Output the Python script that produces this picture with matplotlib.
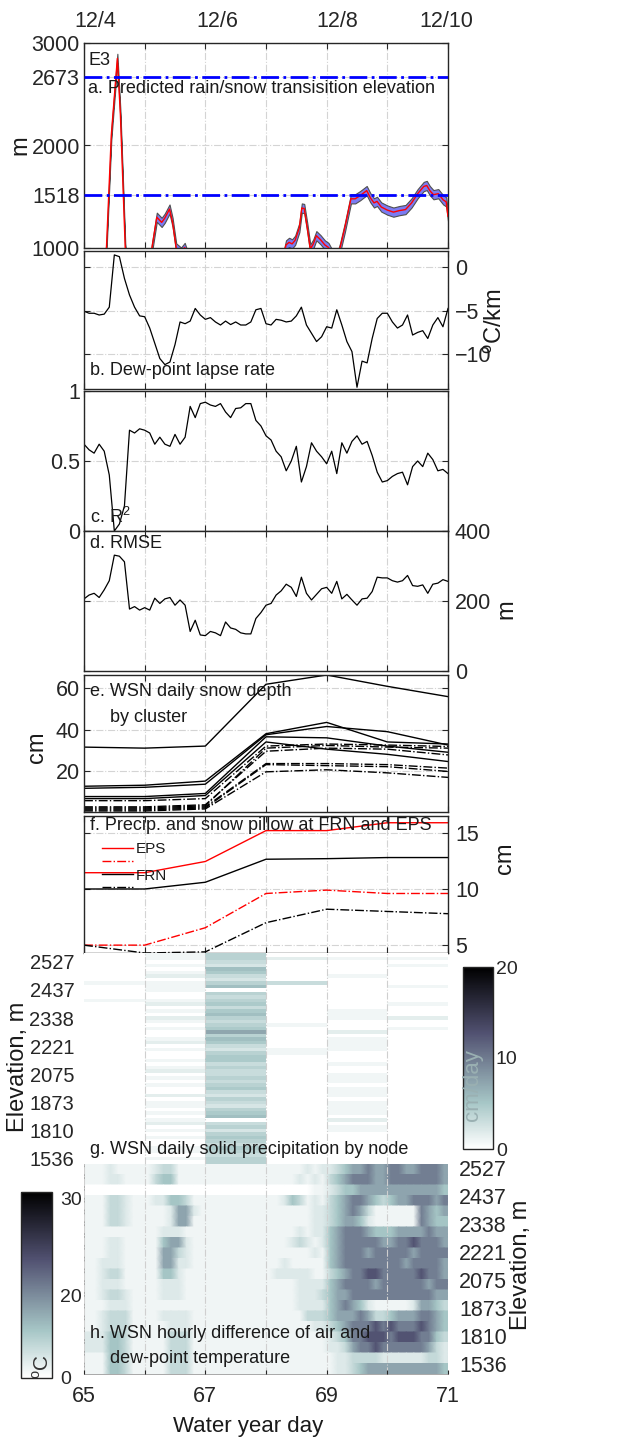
import numpy as np
import matplotlib.pyplot as plt
from matplotlib.colors import Normalize, PowerNorm

plt.rcParams['font.family'] = ['Liberation Sans', 'DejaVu Sans']
plt.rcParams['mathtext.fontset'] = 'custom'
plt.rcParams['mathtext.rm'] = 'Liberation Sans'
plt.rcParams['axes.edgecolor'] = '#262626'
plt.rcParams['xtick.color'] = '#262626'
plt.rcParams['ytick.color'] = '#262626'
plt.rcParams['text.color'] = '#1a1a1a'
plt.rcParams['axes.labelcolor'] = '#1a1a1a'

##############################################
###                  DATA                  ###
##############################################

days = np.arange(65, 72)                  # water year day
date_labels = ['12/4', '12/6', '12/8', '12/10']
date_ticks = [65.18, 67.2, 69.18, 70.98]
t2h = np.linspace(65, 71, 73)             # two-hourly time stamps

# a. predicted rain/snow transition elevation (m)
a_day = [65.0, 65.3, 65.37, 65.45, 65.55, 65.6, 65.68, 65.75, 66.05, 66.12,
         66.2, 66.28, 66.33, 66.41, 66.46, 66.52, 66.6, 66.66, 66.72, 67.0,
         68.0, 68.28, 68.33, 68.38, 68.43, 68.48, 68.55, 68.59, 68.63, 68.68,
         68.73, 68.78, 68.83, 68.9, 68.97, 69.03, 69.08, 69.17, 69.22, 69.3,
         69.4, 69.47, 69.55, 69.66, 69.72, 69.78, 69.83, 69.9, 70.0, 70.1,
         70.2, 70.3, 70.4, 70.5, 70.6, 70.65, 70.7, 70.76, 70.84, 70.92,
         70.97, 71.0]
a_elev = [500, 700, 1000, 2100, 2850, 2300, 1000, 600, 700, 1000,
          1300, 1250, 1290, 1380, 1250, 1000, 960, 1005, 900, 600,
          600, 900, 1030, 1055, 1040, 1075, 1200, 1390, 1385, 1200,
          990, 1040, 1120, 1080, 1030, 1005, 950, 900, 1000, 1200,
          1480, 1480, 1510, 1560, 1490, 1440, 1455, 1400, 1370, 1350,
          1365, 1375, 1440, 1530, 1600, 1610, 1560, 1520, 1530, 1470,
          1450, 1310]
a_band = 45                               # half width of the uncertainty band
snow_line_elev = [2673, 1518]

# b. dew-point lapse rate (degC/km)
b_lapse = [-5.06, -5.3, -5.3, -5.5, -5.4, -4.6, 1.4, 1.2, -1.3, -3.2, -4.6, -5.6,
           -5.7, -7.0, -8.75, -10.5, -11.2, -10.9, -8.9, -6.3, -6.5, -6.2, -4.75, -5.5,
           -6.0, -5.8, -6.3, -6.65, -6.2, -6.6, -6.3, -6.65, -6.65, -6.3, -4.9, -4.75,
           -6.5, -6.65, -6.0, -6.1, -6.3, -6.2, -5.6, -4.6, -6.65, -7.6, -8.55, -8.0,
           -6.85, -7.0, -4.9, -6.65, -8.55, -9.7, -13.8, -10.8, -11.0, -8.2, -5.9, -5.3,
           -5.3, -6.3, -7.0, -6.65, -5.5, -7.8, -7.5, -7.3, -8.2, -6.65, -5.8, -6.85,
           -4.75]

# c. R^2 of the lapse-rate fit
c_r2 = [0.62, 0.58, 0.556, 0.62, 0.57, 0.40, 0.0, 0.05, 0.18, 0.72, 0.70, 0.73,
        0.72, 0.70, 0.62, 0.67, 0.62, 0.605, 0.69, 0.62, 0.67, 0.89, 0.81, 0.91,
        0.92, 0.90, 0.89, 0.91, 0.85, 0.81, 0.875, 0.88, 0.91, 0.91, 0.79, 0.75,
        0.68, 0.65, 0.57, 0.53, 0.43, 0.50, 0.605, 0.35, 0.46, 0.63, 0.57, 0.53,
        0.48, 0.57, 0.41, 0.63, 0.556, 0.64, 0.68, 0.62, 0.64, 0.54, 0.42, 0.35,
        0.36, 0.39, 0.41, 0.42, 0.33, 0.46, 0.50, 0.46, 0.556, 0.51, 0.43, 0.44,
        0.41]

# d. RMSE of the fit (m)
d_rmse = [206, 217, 222, 210, 232, 258, 331, 328, 312, 177, 184, 174,
          181, 174, 208, 193, 206, 210, 188, 203, 188, 113, 145, 103,
          101, 113, 109, 101, 140, 123, 119, 109, 106, 106, 150, 167,
          188, 193, 217, 229, 248, 239, 213, 268, 222, 203, 219, 235,
          239, 222, 256, 206, 219, 203, 188, 206, 208, 227, 268, 266,
          266, 258, 254, 258, 273, 244, 242, 246, 222, 248, 251, 261,
          256]

# e. daily snow depth by cluster (cm)
e_solid = [
    [31.5, 31.0, 32.0, 62.0, 66.5, 61.0, 56.0],
    [12.5, 13.0, 15.0, 38.0, 43.5, 34.0, 33.0],
    [11.5, 12.0, 13.5, 37.5, 41.5, 39.0, 32.5],
    [7.5, 7.5, 9.0, 36.5, 36.0, 32.0, 29.0],
    [6.5, 6.5, 8.0, 34.0, 30.5, 28.0, 24.5],
]
e_dashdot = [
    [5.5, 5.5, 6.5, 32.0, 33.0, 32.5, 31.8],
    [2.0, 2.0, 3.0, 31.0, 32.3, 31.5, 31.0],
    [2.5, 2.5, 3.5, 29.5, 31.0, 30.5, 27.7],
    [1.5, 1.5, 2.5, 23.5, 23.5, 23.0, 21.3],
    [1.0, 1.0, 2.0, 23.0, 22.5, 22.0, 19.7],
    [0.5, 0.5, 1.5, 19.5, 20.5, 19.0, 16.8],
]

# f. cumulative precip (solid) and snow pillow (dash-dot), cm
eps_precip = [11.45, 11.45, 12.45, 15.2, 15.2, 15.9, 15.9]
frn_precip = [10.0, 10.0, 10.6, 12.65, 12.7, 12.8, 12.8]
eps_pillow = [5.0, 5.0, 6.55, 9.6, 9.9, 9.6, 9.6]
frn_pillow = [5.0, 4.3, 4.4, 7.0, 8.2, 8.0, 7.8]

# g. daily solid precipitation by node, one string per day,
#    one digit per node (top = highest), 0.8 cm/day per step
g_step = 0.8
g_day65 = "0000000010 0001000000 0000000000 0000000000 0000000000 0000000000"
g_day66 = "1101012011 1001201021 0100120100 1012010100 2011010120 1010011010"
g_day67 = "5543764357 0545646754 5695764356 6454454564 3543567045 3565465455"
g_day68 = "0200000040 0000000000 1000000110 0000000000 0000000000 0000000000"
g_day69 = "0100001000 0000001110 0020111100 0100111011 1011110201 1000000000"
g_day70 = "0101000001 0000100020 0100000000 0000000000 0000000000 0000000000"

# h. hourly air minus dew-point temperature, 3-hour columns,
#    one string per group of three nodes, 3 degC per step
h_step = 3.0
h_rows = [
    "22232222 23442222 22222222 22222323 34566766 77667776",
    "22233222 24552222 22222222 22223232 45677766 77777776",
    "00000000 00000000 00000000 00000022 34556666 66666665",
    "22244322 23355422 22222222 22354232 45677654 56677767",
    "22244322 22236632 22222222 22222233 45676422 22227656",
    "22244322 22236622 22222222 22222233 45665322 22227655",
    "22222222 22333222 22222222 22223233 56777655 56666766",
    "22233222 22566322 22222222 22234323 56777776 67787776",
    "22233222 22664322 22222222 22222232 56777677 77767777",
    "22333222 22663322 22222222 22322222 56777777 77677776",
    "22344222 22553222 22222222 23333322 45677887 77778776",
    "22333222 22333222 22222222 22223333 56777767 77777677",
    "22344322 22333222 22222222 22223334 56677777 77777766",
    "22233322 22222222 22222222 22223333 56765322 22236654",
    "22344422 22333322 22222222 22222444 56667644 56667765",
    "22344422 22233322 22222222 22222233 45677787 87778765",
    "33355422 22244422 22222222 22222222 34577888 78887754",
    "33355422 22244422 22222222 22222222 33467787 77777643",
    "22255422 22244422 22222222 22222222 23344443 33333443",
    "22255422 22244422 22222222 22222222 23345666 66666665",
]
node_elev_labels = ['2527', '2437', '2338', '2221', '2075', '1873', '1810', '1536']
n_nodes = 60


def digits(s):
    return [int(c) for c in "".join(s.split())]


g_matrix = np.array([digits(s) for s in
                     (g_day65, g_day66, g_day67, g_day68, g_day69, g_day70)]).T * g_step
h_matrix = np.array([digits(s) for s in h_rows]) * h_step

##############################################
###                  PLOT                  ###
##############################################

W, H = 620, 1442
fig = plt.figure(figsize=(W / 100, H / 100), dpi=100)
TICK = 15.5
TXT = 13
YLAB = 17


def box(x0, y0, x1, y1):
    return [x0 / W, 1 - y1 / H, (x1 - x0) / W, (y1 - y0) / H]


def line_panel(rect):
    ax = fig.add_axes(rect)
    ax.set_xlim(65, 71)
    ax.set_xticks(days)
    ax.tick_params(axis='both', direction='in', length=4, width=0.8,
                   labelsize=TICK, top=True, right=True, labelbottom=False, pad=3)
    ax.grid(True, ls='-.', color='#d4d4d4', lw=0.8)
    for s in ax.spines.values():
        s.set_linewidth(1.0)
    return ax


def label(ax, x, y, s, **kw):
    ax.text(x, y, s, transform=ax.transAxes, fontsize=TXT, va='center', ha='left', **kw)


# a
ax_a = line_panel(box(84, 43, 448, 248))
a_elev = np.array(a_elev, dtype=float)
ax_a.fill_between(a_day, a_elev - a_band, a_elev + a_band, facecolor='#7b7bf3',
                  edgecolor='#505050', lw=0.8, zorder=2)
ax_a.plot(a_day, a_elev, color='red', lw=1.0, zorder=3)
for elev in snow_line_elev:
    ax_a.axhline(elev, color='#0000ff', ls='-.', lw=2.0, zorder=4)
ax_a.set_ylim(1000, 3000)
ax_a.set_yticks(sorted([1000, 2000, 3000] + snow_line_elev))
top = ax_a.secondary_xaxis('top')
top.set_xticks(date_ticks)
top.set_xticklabels(date_labels)
top.tick_params(length=0, labelsize=TICK, pad=8)
top.spines['top'].set_visible(False)
ax_a.set_ylabel('m', fontsize=YLAB)
ax_a.yaxis.set_label_coords(-0.145, 0.5)
label(ax_a, 0.012, 0.917, 'E3')
label(ax_a, 0.012, 0.78, 'a. Predicted rain/snow transisition elevation')

# b
ax_b = line_panel(box(84, 251, 448, 389))
ax_b.plot(t2h, b_lapse, color='black', lw=0.9)
ax_b.set_ylim(-14, 1.85)
ax_b.set_yticks([-10, -5, 0])
ax_b.tick_params(axis='y', labelleft=False, labelright=True, pad=5)
ax_b.yaxis.set_label_position('right')
ax_b.set_ylabel(r'$^{\mathrm{o}}$C/km', fontsize=YLAB)
ax_b.yaxis.set_label_coords(1.1, 0.49)
label(ax_b, 0.016, 0.135, 'b. Dew-point lapse rate')

# c
ax_c = line_panel(box(84, 391, 448, 531))
ax_c.plot(t2h, c_r2, color='black', lw=0.9)
ax_c.set_ylim(0, 1.0)
ax_c.set_yticks([0, 0.5, 1])
ax_c.set_yticklabels(['0', '0.5', '1'])
label(ax_c, 0.016, 0.1, r'c. R$^2$')

# d
ax_d = line_panel(box(84, 531, 448, 671))
ax_d.plot(t2h, d_rmse, color='black', lw=0.9)
ax_d.set_ylim(0, 400)
ax_d.set_yticks([0, 200, 400])
ax_d.tick_params(axis='y', labelleft=False, labelright=True, pad=5)
ax_d.yaxis.set_label_position('right')
ax_d.set_ylabel('m', fontsize=YLAB)
ax_d.yaxis.set_label_coords(1.13, 0.44)
label(ax_d, 0.016, 0.91, 'd. RMSE')

# e
ax_e = line_panel(box(84, 675, 448, 812))
for series in e_solid:
    ax_e.plot(days, series, color='black', lw=1.0, ls='-')
for series in e_dashdot:
    ax_e.plot(days, series, color='black', lw=1.0, ls='-.')
ax_e.set_ylim(0, 66.5)
ax_e.set_yticks([20, 40, 60])
ax_e.set_ylabel('cm', fontsize=YLAB)
ax_e.yaxis.set_label_coords(-0.1, 0.47)
label(ax_e, 0.016, 0.88, 'e. WSN daily snow depth')
label(ax_e, 0.072, 0.69, 'by cluster')

# f
ax_f = line_panel(box(84, 816, 448, 953))
h1, = ax_f.plot(days, eps_precip, color='red', lw=1.0, ls='-')
h2, = ax_f.plot(days, eps_pillow, color='red', lw=1.0, ls='-.')
h3, = ax_f.plot(days, frn_precip, color='black', lw=1.0, ls='-')
h4, = ax_f.plot(days, frn_pillow, color='black', lw=1.0, ls='-.')
ax_f.set_ylim(4.3, 16.5)
ax_f.set_yticks([5, 10, 15])
ax_f.tick_params(axis='y', labelleft=False, labelright=True, pad=5)
ax_f.yaxis.set_label_position('right')
ax_f.set_ylabel('cm', fontsize=YLAB)
ax_f.yaxis.set_label_coords(1.125, 0.69)
label(ax_f, 0.016, 0.93, 'f. Precip. and snow pillow at FRN and EPS')
ax_f.legend([h1, h2, h3, h4], ['EPS', ' ', 'FRN', ' '], loc='upper left',
            bbox_to_anchor=(0.05, 0.81), frameon=False, fontsize=11,
            handlelength=2.0, handletextpad=0.2, labelspacing=-0.05,
            borderaxespad=0, borderpad=0)

# g
ax_g = fig.add_axes(box(84, 953, 448, 1164))
mesh_g = ax_g.pcolormesh(days, np.arange(n_nodes + 1), g_matrix,
                         cmap='bone_r', norm=Normalize(0, 20))
ax_g.set_xlim(65, 71)
ax_g.set_ylim(n_nodes, 0)
ax_g.set_xticks(days[1:-1])
ax_g.set_yticks(np.arange(2.5, n_nodes, 8))
ax_g.set_yticklabels(node_elev_labels)
ax_g.tick_params(axis='both', length=0, labelsize=14.5, labelbottom=False, pad=7)
ax_g.set_axisbelow(False)
ax_g.grid(True, axis='x', ls='-.', color='#cfcfcf', lw=0.8)
for s in ax_g.spines.values():
    s.set_visible(False)
ax_g.set_ylabel('Elevation, m', fontsize=YLAB)
ax_g.yaxis.set_label_coords(-0.152, 0.46)
label(ax_g, 0.016, 0.07, 'g. WSN daily solid precipitation by node')

cax_g = fig.add_axes(box(463, 967, 493, 1149))
cb_g = fig.colorbar(mesh_g, cax=cax_g, ticks=[0, 10, 20])
cb_g.outline.set_linewidth(1.0)
cb_g.outline.set_edgecolor('#262626')
cax_g.tick_params(length=0, labelsize=14, pad=2)
cax_g.text(0.32, 0.35, 'cm/day', transform=cax_g.transAxes, rotation=90,
           fontsize=16, color='#9ab0b2', ha='center', va='center')

# h: soft along time, sharp between node groups
ax_h = fig.add_axes(box(84, 1164, 448, 1374))
h_norm = PowerNorm(gamma=1.9, vmin=0, vmax=30.6)
n_band, n_col = h_matrix.shape
col_w = 6.0 / n_col
h_x = np.concatenate([[65], 65 + (np.arange(n_col) + 0.5) * col_w, [71]])
h_z = np.hstack([h_matrix[:, :1], h_matrix, h_matrix[:, -1:]])
band_h = n_nodes / n_band
h_y = np.ravel([[k * band_h, (k + 1) * band_h] for k in range(n_band)])
h_z = np.repeat(h_z, 2, axis=0)
mesh_h = ax_h.pcolormesh(h_x, h_y, h_z, cmap='bone_r', norm=h_norm, shading='gouraud')
ax_h.set_xlim(65, 71)
ax_h.set_ylim(n_nodes, 0)
ax_h.set_xticks(days)
ax_h.set_xticklabels([str(d) if (d - 65) % 2 == 0 else '' for d in days])
ax_h.set_yticks(np.arange(1, n_nodes, 8))
ax_h.set_yticklabels(node_elev_labels)
ax_h.yaxis.tick_right()
ax_h.tick_params(axis='y', length=0, labelsize=TICK, pad=8)
ax_h.tick_params(axis='x', direction='in', length=3, labelsize=TICK, pad=9)
ax_h.set_axisbelow(False)
ax_h.grid(True, axis='x', ls='-.', color='#cfcfcf', lw=0.8)
for side in ('top', 'right'):
    ax_h.spines[side].set_visible(False)
for side in ('left', 'bottom'):
    ax_h.spines[side].set_color('#9a9a9a')
    ax_h.spines[side].set_linewidth(0.6)
ax_h.yaxis.set_label_position('right')
ax_h.set_ylabel('Elevation, m', fontsize=YLAB)
ax_h.yaxis.set_label_coords(1.17, 0.52)
ax_h.set_xlabel('Water year day', fontsize=16)
ax_h.xaxis.set_label_coords(0.45, -0.2)
label(ax_h, 0.016, 0.195, 'h. WSN hourly difference of air and')
label(ax_h, 0.072, 0.072, 'dew-point temperature')

cax_h = fig.add_axes(box(21, 1192, 52, 1378))
cb_h = fig.colorbar(mesh_h, cax=cax_h, ticks=[0, 20, 30])
cb_h.outline.set_linewidth(1.0)
cb_h.outline.set_edgecolor('#262626')
cax_h.tick_params(length=0, labelsize=14, pad=6)
cax_h.text(0.68, 0.06, r'$^{\mathrm{o}}$C', transform=cax_h.transAxes, rotation=90,
           fontsize=15, color='#333333', ha='center', va='center')

fig.savefig('out.png', dpi=100)
